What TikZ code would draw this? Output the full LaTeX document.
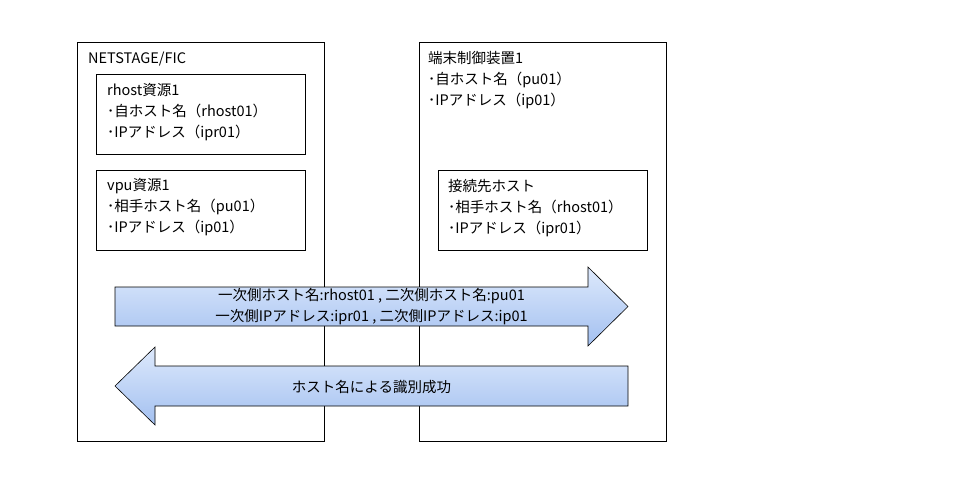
\documentclass[tikz,border=0pt]{standalone}
\usepackage{fontspec}
\setmainfont{Noto Sans CJK JP}
\definecolor{arrowtop}{HTML}{DDE9FC}
\definecolor{arrowbot}{HTML}{A3C0F0}
\tikzset{
  frame/.style={draw, line width=0.8pt, minimum width=247pt, minimum height=399pt, anchor=north west, inner sep=0pt},
  res/.style={draw, line width=0.8pt, minimum width=209pt, minimum height=80pt, anchor=north west, inner sep=0pt},
  txt/.style={inner sep=0pt, align=left, anchor=base west, font=\fontsize{14.5}{21}\selectfont},
  msg/.style={inner sep=0pt, align=center, font=\fontsize{14.5}{21}\selectfont},
  blockarrow/.style={draw, line width=0.6pt, top color=arrowtop, bottom color=arrowbot}
}
\begin{document}
\begin{tikzpicture}[x=1pt, y=-1pt]
  \useasboundingbox (0,0) rectangle (960,478);
  % hosts
  \node[frame] (netstage) at (77,42) {};
  \node[frame] (tcd) at (419,42) {};
  \node[res] (rhost) at (96,74) {};
  \node[res] (vpu) at (96,170) {};
  \node[res] (dest) at (438,170) {};
  % base is the last line, so shift by two more lines
  \node[txt] (netstagetxt) at ([shift={(11,21.5)}]netstage.north west) {NETSTAGE/FIC};
  \node[txt] (rhosttxt) at ([shift={(11,63.5)}]rhost.north west)
    {rhost資源1\\･自ホスト名（rhost01）\\･IPアドレス（ipr01）};
  \node[txt] (vputxt) at ([shift={(11,63)}]vpu.north west)
    {vpu資源1\\･相手ホスト名（pu01）\\･IPアドレス（ip01）};
  \node[txt] (tcdtxt) at ([shift={(9,63.5)}]tcd.north west)
    {端末制御装置1\\･自ホスト名（pu01）\\･IPアドレス（ip01）};
  \node[txt] (desttxt) at ([shift={(10,63.5)}]dest.north west)
    {接続先ホスト\\･相手ホスト名（rhost01）\\･IPアドレス（ipr01）};
  % messages
  \draw[blockarrow] (115,287) -- (588,287) -- (588,267) -- (628,306.5)
    -- (588,346) -- (588,326) -- (115,326) -- cycle;
  \draw[blockarrow] (628,366) -- (155,366) -- (155,347) -- (115,386)
    -- (155,425) -- (155,406) -- (628,406) -- cycle;
  \node[msg] (req) at (371.5,307)
    {一次側ホスト名:rhost01 , 二次側ホスト名:pu01\\一次側IPアドレス:ipr01 , 二次側IPアドレス:ip01};
  \node[msg] (ack) at (371.5,387) {ホスト名による識別成功};
\end{tikzpicture}
\end{document}
